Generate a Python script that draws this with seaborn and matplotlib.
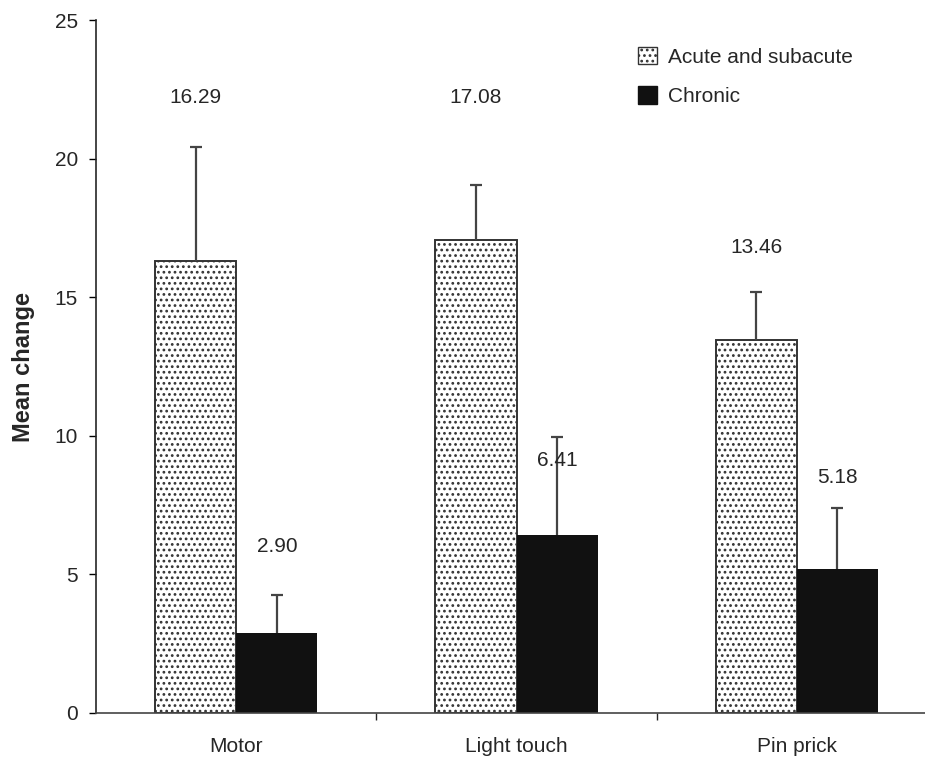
import numpy as np
import pandas as pd
import matplotlib
matplotlib.use("Agg")
import matplotlib.pyplot as plt
import seaborn as sns
from matplotlib.patches import Patch

sns.set_style("ticks")
plt.rcParams['font.family'] = ['Liberation Sans', 'DejaVu Sans']
plt.rcParams['hatch.color'] = '#4a4a4a'
plt.rcParams['hatch.linewidth'] = 1.2

# data
categories = ["Motor", "Light touch", "Pin prick"]
groups = ["Acute and subacute", "Chronic"]
acute_mean = [16.29, 17.08, 13.46]
chronic_mean = [2.90, 6.41, 5.18]
acute_err = [4.14, 1.98, 1.74]
chronic_err = [1.36, 3.55, 2.22]
# where the value labels sit (data units)
acute_label_y = [22.2, 22.2, 16.8]
chronic_label_y = [6.0, 9.1, 8.5]

df = pd.DataFrame({
    "measure": categories * 2,
    "group": [groups[0]] * 3 + [groups[1]] * 3,
    "mean": acute_mean + chronic_mean,
})

fig = plt.figure(figsize=(9.25, 7.58), dpi=100)
ax = fig.add_axes([96 / 925, 45 / 758, 841 / 925, 693 / 758])

sns.barplot(data=df, x="measure", y="mean", hue="group", order=categories,
            hue_order=groups, palette=["white", "#111111"], width=0.58,
            gap=0, errorbar=None, legend=False, ax=ax)

bars = ax.patches
acute_bars = bars[:3]
chronic_bars = bars[3:6]
for b in acute_bars:
    b.set_hatch("...")
    b.set_edgecolor("#333333")
    b.set_linewidth(1.4)
for b in chronic_bars:
    b.set_edgecolor("#111111")
    b.set_linewidth(0)

for bs, means, errs, ly in [(acute_bars, acute_mean, acute_err, acute_label_y),
                            (chronic_bars, chronic_mean, chronic_err, chronic_label_y)]:
    xs = [b.get_x() + b.get_width() / 2 for b in bs]
    eb = ax.errorbar(xs, means, yerr=[np.zeros(3), errs], fmt="none",
                     ecolor="#444444", elinewidth=1.6, capsize=4, capthick=1.6)
    eb[1][0].set_visible(False)  # no cap at the bar top
    for x, m, y in zip(xs, means, ly):
        ax.text(x, y, f"{m:.2f}", ha="center", va="center", fontsize=15)

ax.set_xlim(-0.5, 2.5)
ax.set_ylim(0, 25)
ax.set_yticks([0, 5, 10, 15, 20, 25])
ax.tick_params(axis="y", labelsize=15, length=5, width=1, color="black", pad=8)
ax.tick_params(axis="x", which="major", length=0, labelsize=15, pad=17)
ax.set_xticks([0.5, 1.5], minor=True)
ax.tick_params(axis="x", which="minor", length=5, width=1)
ax.set_xlabel("")
ax.set_ylabel("Mean change", fontsize=17, fontweight="bold", labelpad=14)

sns.despine(ax=ax)
ax.spines["left"].set_linewidth(1.2)
ax.spines["bottom"].set_linewidth(1.2)
ax.spines["bottom"].set_color("#444444")

handles = [Patch(facecolor="white", edgecolor="#333333", hatch="...", linewidth=1),
           Patch(facecolor="#111111", edgecolor="#111111")]
fig.legend(handles, groups, loc="upper left", bbox_to_anchor=(619 / 925, 1 - 28 / 758),
           frameon=False, fontsize=15, handlelength=0.9, handleheight=0.9,
           handletextpad=0.55, labelspacing=0.95)

fig.savefig("out.png", dpi=100)
